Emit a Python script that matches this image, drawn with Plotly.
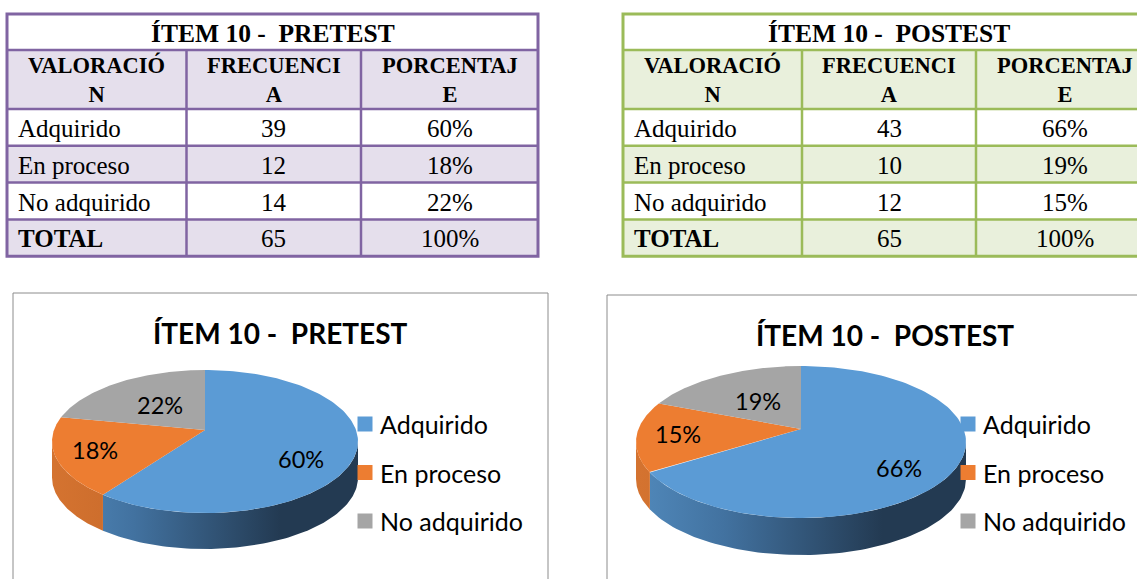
import numpy as np
import plotly.graph_objects as go

# ---- data ----
categories = ["Adquirido", "En proceso", "No adquirido"]
header_cols = ["VALORACIÓ<br>N", "FRECUENCI<br>A", "PORCENTAJ<br>E"]
pre_freq = [39, 12, 14]
pre_pct = [60, 18, 22]
post_freq = [43, 10, 12]
post_pct = [66, 19, 15]
post_pie_pct = [66, 15, 19]
total_label = "TOTAL"
pre_title = "ÍTEM 10 -\u00a0 PRETEST"
post_title = "ÍTEM 10 -\u00a0 POSTEST"

# ---- styling ----
slice_colors = ["#5B9BD5", "#ED7D31", "#A5A5A5"]
side_scales = [
    [[0, "#5088BA"], [0.35, "#4272A0"], [1, "#233A52"]],
    [[0, "#D47330"], [1, "#B65B22"]],
    [[0, "#8A8A8A"], [1, "#6E6E6E"]],
]
label_radius = [0.65, 0.75, 0.5]
label_drop = [15, 0, 0]

W, H = 1137, 579
SERIF = "Liberation Serif, Times New Roman, serif"
SANS = "Lato, Calibri, sans-serif"

fig = go.Figure()
shapes = []
annotations = []


def draw_table(x0, col_w, border, tint, title, freq, pct):
    top, title_h, head_h, row_h = 14, 36, 59, 36.8
    xs = np.concatenate([[x0], x0 + np.cumsum(col_w)])
    total = sum(freq)
    rows = [(c, str(f), f"{p}%") for c, f, p in zip(categories, freq, pct)]
    rows.append((total_label, str(total), f"{sum(pct)}%"))
    ys = [top, top + title_h, top + title_h + head_h]
    for _ in rows:
        ys.append(ys[-1] + row_h)
    fills = ["white", tint] + [tint if i % 2 else "white" for i in range(len(rows))]
    for i, f in enumerate(fills):
        shapes.append(dict(type="rect", x0=xs[0], x1=xs[-1], y0=ys[i], y1=ys[i + 1],
                           fillcolor=f, line_width=0, layer="below"))
    for y in ys[1:-1]:
        shapes.append(dict(type="line", x0=xs[0], x1=xs[-1], y0=y, y1=y,
                           line=dict(color=border, width=2.5), layer="below"))
    for x in xs[1:-1]:
        shapes.append(dict(type="line", x0=x, x1=x, y0=ys[1], y1=ys[-1],
                           line=dict(color=border, width=2.5), layer="below"))
    shapes.append(dict(type="rect", x0=xs[0], x1=xs[-1], y0=ys[0], y1=ys[-1],
                       line=dict(color=border, width=3), fillcolor="rgba(0,0,0,0)", layer="below"))
    annotations.append(dict(x=(xs[0] + xs[-1]) / 2, y=(ys[0] + ys[1]) / 2 + 1, text=f"<b>{title}</b>",
                            showarrow=False, font=dict(family=SERIF, size=25.5, color="black")))
    for j, h in enumerate(header_cols):
        annotations.append(dict(x=(xs[j] + xs[j + 1]) / 2, y=(ys[1] + ys[2]) / 2, text=f"<b>{h}</b>",
                                showarrow=False, font=dict(family=SERIF, size=22.5, color="black")))
    for i, row in enumerate(rows):
        yc = (ys[i + 2] + ys[i + 3]) / 2 + 1
        for j, val in enumerate(row):
            txt = f"<b>{val}</b>" if (j == 0 and val == total_label) else val
            if j == 0:
                annotations.append(dict(x=xs[0] + 9, y=yc, text=txt, xanchor="left", showarrow=False,
                                        font=dict(family=SERIF, size=25, color="black")))
            else:
                annotations.append(dict(x=(xs[j] + xs[j + 1]) / 2, y=yc, text=txt, showarrow=False,
                                        font=dict(family=SERIF, size=25, color="black")))


draw_table(7, [179.5, 174.5, 177], "#8064A2", "#E5DFEC", pre_title, pre_freq, pre_pct)
draw_table(623, [179, 174, 178], "#9BBB59", "#E9F0DC", post_title, post_freq, post_pct)


def draw_pie(box, title, title_x, cx, cy0, half_w, back, front, depth, pct, legend_x, legend_y):
    """3-D style pie: a tilted disc seen in perspective, slices clockwise from 12 o'clock."""
    bx0, by0, bx1 = box
    shapes.append(dict(type="rect", x0=bx0, x1=bx1, y0=by0, y1=H + 20,
                       line=dict(color="#8C8C8C", width=1), fillcolor="white", layer="below"))
    annotations.append(dict(x=title_x, y=by0 + 40, text=f"<b>{title}</b>", showarrow=False,
                            font=dict(family=SANS, size=28, color="black")))

    d = (front - back) / (front + back)          # perspective strength
    a = back * (1 + d)                           # vertical semi-axis of the disc
    R = half_w * np.sqrt(1 - d * d)              # horizontal radius

    def proj(t, r=1.0):
        rad = np.radians(t)
        X, Z = r * np.sin(rad), -r * np.cos(rad)
        k = 1.0 / (1.0 - d * Z)
        return cx + R * X * k, cy0 + a * Z * k

    frac = np.array(pct, dtype=float) / sum(pct)
    edges = np.concatenate([[0], np.cumsum(frac)]) * 360.0
    t_vis = np.degrees(np.arccos(-d))            # silhouette angles of the side wall

    # side walls (visible front part)
    for k in range(len(pct)):
        lo, hi = max(edges[k], t_vis), min(edges[k + 1], 360 - t_vis)
        if hi <= lo:
            continue
        t = np.linspace(lo, hi, 90)
        xr, yr = proj(t)
        xs = np.concatenate([xr, xr[::-1], xr[:1]])
        ys = np.concatenate([yr, yr[::-1] + depth, yr[:1]])
        fig.add_trace(go.Scatter(
            x=xs, y=ys, mode="lines", fill="toself", line=dict(width=0),
            fillgradient=dict(type="horizontal", colorscale=side_scales[k],
                              start=float(cx - R), stop=float(cx + R * 0.5)),
            hoverinfo="skip", showlegend=False))

    # top faces
    for k in range(len(pct)):
        t = np.linspace(edges[k], edges[k + 1], 140)
        xr, yr = proj(t)
        xs = np.concatenate([[cx], xr, [cx]])
        ys = np.concatenate([[cy0], yr, [cy0]])
        fig.add_trace(go.Scatter(x=xs, y=ys, mode="lines", fill="toself",
                                 fillcolor=slice_colors[k], line=dict(width=0),
                                 hoverinfo="skip", showlegend=False))
        mid = (edges[k] + edges[k + 1]) / 2
        lx, ly = proj(mid, label_radius[k])
        annotations.append(dict(x=float(lx), y=float(ly) + label_drop[k], text=f"{pct[k]}%",
                                showarrow=False, font=dict(family=SANS, size=23.5, color="black")))

    # legend
    for k, name in enumerate(categories):
        yk = legend_y + 48.5 * k
        fig.add_trace(go.Scatter(x=[legend_x], y=[yk], mode="markers",
                                 marker=dict(symbol="square", size=15, color=slice_colors[k]),
                                 hoverinfo="skip", showlegend=False))
        annotations.append(dict(x=legend_x + 13, y=yk, text=name, xanchor="left", showarrow=False,
                                font=dict(family=SANS, size=25, color="black")))


draw_pie((13, 293, 548), pre_title, 280, 205, 430, 153, 60, 83, 36, pre_pct, 365, 424)
draw_pie((607, 295, 1160), post_title, 885, 801, 429, 165, 63, 89, 37, post_pie_pct, 968, 424)

fig.update_layout(
    width=W, height=H, margin=dict(l=0, r=0, t=0, b=0),
    paper_bgcolor="white", plot_bgcolor="white",
    xaxis=dict(range=[0, W], visible=False, fixedrange=True),
    yaxis=dict(range=[H, 0], visible=False, fixedrange=True),
    shapes=shapes, annotations=annotations, showlegend=False,
)
fig.write_html("out.html")
